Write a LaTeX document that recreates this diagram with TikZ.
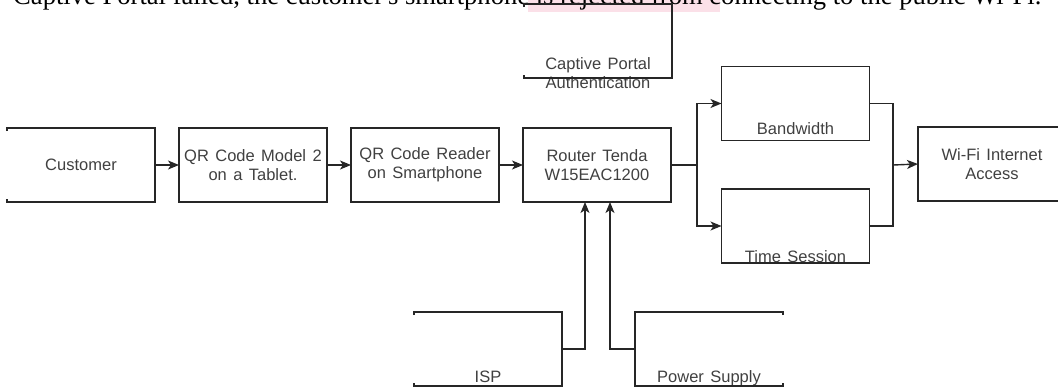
\documentclass[tikz,border=0pt]{standalone}
\usepackage{fontspec}
\setsansfont{Liberation Sans}[WordSpace=1.4]
\newfontfamily\captionserif{Liberation Serif}
\usetikzlibrary{arrows.meta, positioning}
\definecolor{hilite}{HTML}{FBE0E8}

\begin{document}
\begin{tikzpicture}[
  x=1pt, y=-1pt,
  node distance=24pt,
  box/.style={rectangle, minimum width=148pt, minimum height=74pt, inner sep=0pt, outer sep=0pt, font=\sffamily\fontsize{16.5}{19}\selectfont, text=black!75, align=center},
  framed/.style={box, draw=black!85, line width=1.4pt},
  edge/.style={draw=black!85, line width=1.4pt},
  arr/.style={edge, -{Stealth[length=11pt, width=9pt, inset=3pt]}},
  txt/.style={font=\sffamily\fontsize{16.5}{19}\selectfont, text=black!75, align=center, inner sep=0pt},
]
\clip (0,0) rectangle (1058,388);

% caption line of the page, cut off at the top
\fill[hilite] (528,0) rectangle (720,12);
\node[anchor=base west, inner sep=0pt, font=\captionserif] (caption) at (13,5) {\resizebox{1028pt}{!}{Captive Portal failed, the customer's smartphone is rejected from connecting to the public Wi-Fi.}};

% main row
\node[box] (cust) at (81,165) {Customer};
\node[framed, right=of cust] (tablet) {QR Code Model 2\\on a Tablet.};
\node[framed, right=of tablet] (reader) {QR Code Reader\\on Smartphone};
\node[framed, right=of reader] (router) {Router Tenda\\W15EAC1200};
\draw[edge] ([yshift=-3pt]cust.north west) -- (cust.north west) -- (cust.north east) -- (cust.south east) -- (cust.south west) -- ([yshift=3pt]cust.south west);

% captive portal
\node[box, label={[txt, anchor=center, yshift=4.5pt]south:Captive Portal\\Authentication}] (captive) at (598,41) {};
\draw[edge] ([yshift=-3pt]captive.north west) -- (captive.north west) -- (captive.north east) -- (captive.south east) -- (captive.south west) -- ([yshift=3pt]captive.south west);

% limits and output
\node[framed, label={[txt, anchor=base, yshift=6pt]south:Bandwidth}] (bw) at (795.5,103.5) {};
\node[framed, label={[txt, anchor=base, yshift=1pt]south:Time Session}] (session) at (795.5,226) {};
\node[framed] (wifi) at (992,164) {Wi-Fi Internet\\Access};

% inputs below the router
\node[box, label={[txt, anchor=base, yshift=3.3pt]south:ISP}] (isp) at (488,349) {};
\node[box, label={[txt, anchor=base, yshift=3.3pt]south:Power Supply}] (power) at (709,349) {};
\draw[edge] ([yshift=-3pt]isp.north west) -- (isp.north west) -- (isp.north east) -- (isp.south east) -- (isp.south west) -- ([yshift=3pt]isp.south west);
\draw[edge] ([yshift=-3pt]power.north east) -- (power.north east) -- (power.north west) -- (power.south west) -- (power.south east) -- ([yshift=3pt]power.south east);

% connectors
\draw[arr] (cust.east) -- (tablet.west);
\draw[arr] (tablet.east) -- (reader.west);
\draw[arr] (reader.east) -- (router.west);
\coordinate[right=26pt of router.east] (split);
\draw[edge] (router.east) -- (split);
\draw[arr] (split) |- (bw.west);
\draw[arr] (split) |- (session.west);
\coordinate (join) at (893,165);
\draw[edge] (bw.east) -| (join) |- (session.east);
\draw[arr] (join) -- (wifi.west);
\draw[arr] (isp.east) -| ([xshift=-12pt]router.south);
\draw[arr] (power.west) -| ([xshift=13pt]router.south);

\end{tikzpicture}
\end{document}
